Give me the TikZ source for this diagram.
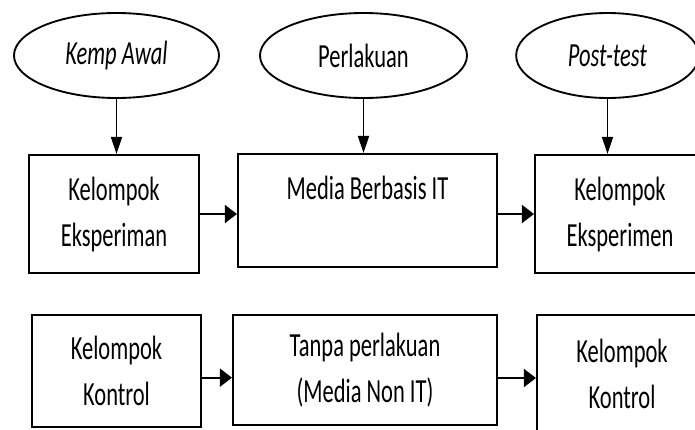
\documentclass[tikz,border=0pt]{standalone}
\usepackage{fontspec}
\setmainfont{Carlito}[FakeStretch=0.667]
\usetikzlibrary{positioning,shapes.geometric,arrows.meta}

\tikzset{
	oval/.style={draw, ellipse, line width=1.4pt, minimum height=63.75pt, inner sep=0pt},
	kotak/.style={draw, rectangle, line width=1.6pt, align=center, inner sep=0pt},
	panahv/.style={line width=1.3pt, -{Triangle[length=12.75pt,width=8.25pt]}},
	panahh/.style={line width=1.3pt, -{Triangle[length=9pt,width=13.5pt]}},
}

\begin{document}
\begin{tikzpicture}[x=0.75pt,y=-0.75pt,every node/.style={font=\fontsize{25.3pt}{34.5pt}\selectfont}]
			\clip (0,0) rectangle (695,429);
			
			\node[oval, minimum width=153.75pt] (kemp) at (116.5,55.5) {\textit{Kemp Awal}};
			\node[oval, minimum width=155.25pt] (perlakuan) at (363.5,55.5) {Perlakuan};
			\node[oval, minimum width=137pt] (posttest) at (607.5,55.5) {\textit{Post-test}};
			
			\node[kotak, minimum width=127.5pt, minimum height=88.5pt] (eksp) at (114,214) {Kelompok\\Eksperiman};
			\node[kotak, minimum width=194.25pt, minimum height=84.75pt] (media) at (367.5,210.5) {Media Berbasis IT\\[-5pt]\vphantom{p}};
			\node[kotak, minimum width=127.5pt, minimum height=88.5pt] (eksp2) at (620,214) {Kelompok\\Eksperimen};
			
			\node[kotak, minimum width=126.75pt, minimum height=84pt] (kontrol) at (116.5,371) {Kelompok\\Kontrol};
			\node[kotak, minimum width=198pt, minimum height=82.5pt] (tanpa) at (365,370) {Tanpa perlakuan\\(Media Non IT)};
			\node[kotak, minimum width=127.5pt, minimum height=88.5pt] (kontrol2) at (622,374) {Kelompok\\Kontrol};
			
			\draw[panahv] (kemp.south) -- (kemp.south |- eksp.north);
			\draw[panahv] (perlakuan.south) -- (perlakuan.south |- media.north);
			\draw[panahv] (posttest.south) -- (posttest.south |- eksp2.north);
			
			\draw[panahh] (eksp.east) -- (eksp.east -| media.west);
			\draw[panahh] (media.east |- eksp2.west) -- (eksp2.west);
			\draw[panahh] ([yshift=-5pt]kontrol.east) -- ([yshift=-5pt]kontrol.east -| tanpa.west);
			\draw[panahh] ([yshift=-6pt]tanpa.east) -- ([yshift=-6pt]tanpa.east -| kontrol2.west);
\end{tikzpicture}
\end{document}
